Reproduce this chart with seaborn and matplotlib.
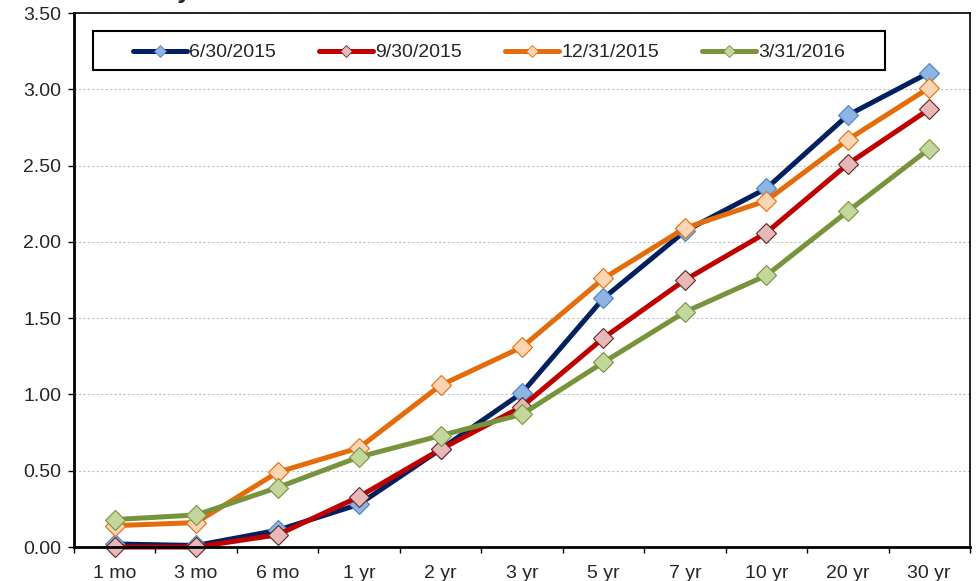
import pandas as pd
import seaborn as sns
import matplotlib.pyplot as plt
from matplotlib.lines import Line2D
from matplotlib.patches import Rectangle
from matplotlib.ticker import MultipleLocator, FixedLocator

maturities = ['1 mo', '3 mo', '6 mo', '1 yr', '2 yr', '3 yr', '5 yr', '7 yr', '10 yr', '20 yr', '30 yr']
dates = ['6/30/2015', '9/30/2015', '12/31/2015', '3/31/2016']

yld_2015_06 = [0.02, 0.01, 0.11, 0.28, 0.64, 1.01, 1.63, 2.07, 2.35, 2.83, 3.11]
yld_2015_09 = [0.00, 0.00, 0.08, 0.33, 0.64, 0.92, 1.37, 1.75, 2.06, 2.51, 2.87]
yld_2015_12 = [0.14, 0.16, 0.49, 0.65, 1.06, 1.31, 1.76, 2.09, 2.27, 2.67, 3.01]
yld_2016_03 = [0.18, 0.21, 0.39, 0.59, 0.73, 0.87, 1.21, 1.54, 1.78, 2.20, 2.61]

line_colors = ['#002060', '#C00000', '#E46C0A', '#77933C']
face_colors = ['#8DB4E2', '#E6B9B8', '#FCD5B5', '#C3D69B']
edge_colors = ['#4F81BD', '#632523', '#E46C0A', '#77933C']

rows = []
for d, vals in zip(dates, [yld_2015_06, yld_2015_09, yld_2015_12, yld_2016_03]):
    for m, v in zip(maturities, vals):
        rows.append({'maturity': m, 'yield': v, 'date': d})
df = pd.DataFrame(rows)

sns.set_style('white')
plt.rcParams['font.family'] = ['Liberation Sans', 'DejaVu Sans']

fig = plt.figure(figsize=(9.77, 5.81), dpi=100)
ax = fig.add_axes([0.0757, 0.0585, 0.9171, 0.9191])

sns.lineplot(data=df, x='maturity', y='yield', hue='date', hue_order=dates,
             palette=line_colors, sort=False, legend=False, ax=ax,
             linewidth=3.6, marker='D', markersize=10)

for ln, fc, ec in zip(ax.lines, face_colors, edge_colors):
    ln.set_markerfacecolor(fc)
    ln.set_markeredgecolor(ec)
    ln.set_markeredgewidth(0.8)
    ln.set_clip_on(False)

ax.set_xlim(-0.5, len(maturities) - 0.5)
ax.set_ylim(0, 3.5)
ax.yaxis.set_major_locator(MultipleLocator(0.5))
ax.yaxis.set_major_formatter(lambda v, p: f'{v:.2f}')
ax.set_xticks(range(len(maturities)))
ax.set_xticklabels(maturities)
ax.xaxis.set_minor_locator(FixedLocator([i - 0.5 for i in range(len(maturities) + 1)]))
ax.tick_params(axis='x', which='major', length=0, labelsize=14, pad=13)
ax.tick_params(axis='x', which='minor', length=4.5, width=1, color='black', direction='out', bottom=True)
ax.tick_params(axis='y', length=4, width=1, color='black', direction='out', labelsize=14, pad=5, left=True)
ax.set_xlabel('')
ax.set_ylabel('')

ax.grid(axis='y', color='#BFBFBF', linestyle=(0, (2, 2)), linewidth=0.8)
ax.set_axisbelow(True)
for sp in ax.spines.values():
    sp.set_color('black')
    sp.set_linewidth(1.2)
ax.spines['left'].set_linewidth(2)
ax.spines['bottom'].set_linewidth(2)

# legend box drawn separately, entries placed inside it
ax.add_patch(Rectangle((0.0212, 0.893), 0.8838, 0.073, transform=ax.transAxes,
                       facecolor='white', edgecolor='black', linewidth=1.5, zorder=5))
handles = [Line2D([], [], color=lc, linewidth=3.6, marker='D', markersize=6,
                  markerfacecolor=fc, markeredgecolor=ec, markeredgewidth=0.6)
           for lc, fc, ec in zip(line_colors, face_colors, edge_colors)]
leg = ax.legend(handles, dates, ncol=4, loc='center left',
                bbox_to_anchor=(0.0658, 0.926), fontsize=14,
                handlelength=2.8, handletextpad=0.1, columnspacing=2.2,
                borderaxespad=0, borderpad=0, frameon=False)
leg.set_zorder(6)

fig.text(0.089, 1.0035, 'Treasury Yield Curve', fontsize=18, fontweight='bold',
         va='baseline', ha='left')

fig.savefig('out.png', dpi=100)
